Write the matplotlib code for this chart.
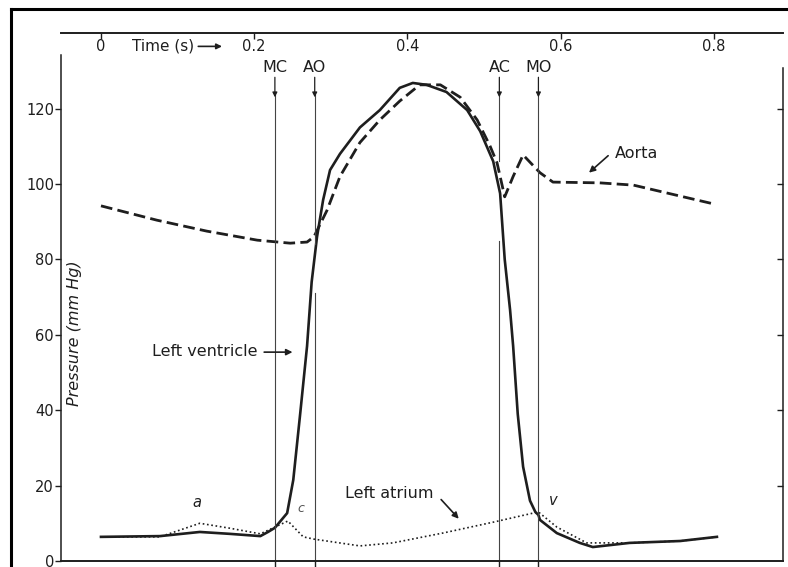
import matplotlib.pyplot as plt
from matplotlib.lines import Line2D

plt.rcParams['font.family'] = ['DejaVu Sans']

# values: time in s, pressure in mm Hg
lv_t = [0.0, 0.077, 0.129, 0.168, 0.208, 0.218, 0.227, 0.243, 0.251, 0.26, 0.269, 0.275,
        0.282, 0.29, 0.299, 0.312, 0.338, 0.364, 0.39, 0.407, 0.425, 0.451, 0.478, 0.495,
        0.512, 0.521, 0.527, 0.534, 0.538, 0.544, 0.551, 0.56, 0.567, 0.571, 0.573, 0.595,
        0.625, 0.642, 0.69, 0.756, 0.804]
lv_p = [6.4, 6.6, 7.7, 7.2, 6.6, 7.7, 8.8, 12.7, 21.5, 39, 57, 74,
        86, 95.8, 103.7, 108, 115, 119.6, 125.5, 126.8, 126.3, 124.4, 119.6, 114,
        106, 97.5, 80, 66.6, 57, 39, 25, 16, 13, 12.2, 10.9, 7.4,
        4.8, 3.7, 4.8, 5.3, 6.4]

ao_t = [0.0, 0.073, 0.138, 0.204, 0.247, 0.269, 0.278, 0.295, 0.312, 0.338, 0.364, 0.39,
        0.416, 0.443, 0.469, 0.491, 0.508, 0.517, 0.527, 0.538, 0.551, 0.573, 0.59, 0.651,
        0.695, 0.739, 0.8]
ao_p = [94.2, 90.4, 87.5, 85.1, 84.3, 84.6, 86, 93, 102, 111, 117, 122,
        126.3, 126.3, 123, 117, 110, 105.6, 96.6, 102, 107.7, 103, 100.5, 100.3,
        99.7, 97.6, 94.7]

la_t = [0.0, 0.077, 0.129, 0.168, 0.208, 0.227, 0.244, 0.264, 0.278, 0.338, 0.381, 0.446,
        0.512, 0.564, 0.571, 0.595, 0.634, 0.69, 0.756, 0.804]
la_p = [6.4, 6.4, 10.0, 8.7, 7.2, 9.0, 10.6, 6.4, 5.8, 4.0, 4.8, 7.4,
        10.3, 12.7, 13.0, 9.0, 4.8, 4.8, 5.3, 6.4]

events = ['MC', 'AO', 'AC', 'MO']
event_t = [0.227, 0.279, 0.52, 0.571]
# parts of each marker line left out where the curves cross (pressure ranges)
event_gaps = [None, (71, 84), (85, 106), None]

time_ticks = [0, 0.2, 0.4, 0.6, 0.8]
time_labels = ['0', '0.2', '0.4', '0.6', '0.8']
p_ticks = [0, 20, 40, 60, 80, 100, 120]

ink = '#1e1e1e'
fs = 11.5

fig = plt.figure(figsize=(7.88, 5.67), dpi=100)
ax = fig.add_axes([0.0774, 0.0106, 0.9163, 0.9312])
ax.set_xlim(-0.0522, 0.8903)
ax.set_ylim(0, 140.05)

ax.plot(lv_t, lv_p, color=ink, lw=1.9, solid_joinstyle='round')
ax.plot(ao_t, ao_p, color=ink, lw=2.0, dashes=(4.2, 1.9))
ax.plot(la_t, la_p, color=ink, lw=1.2, linestyle=(0, (1, 1.6)))

# event marker lines with labels and arrows
for name, t, gap in zip(events, event_t, event_gaps):
    if gap is None:
        ax.plot([t, t], [0, 123.5], color='#444', lw=0.8)
    else:
        ax.plot([t, t], [0, gap[0]], color='#444', lw=0.8)
        ax.plot([t, t], [gap[1], 123.5], color='#444', lw=0.8)
    ax.text(t, 130.8, name, ha='center', va='center', fontsize=fs, color=ink)
    ax.annotate('', xy=(t, 123.0), xytext=(t, 128.3),
                arrowprops=dict(arrowstyle='-|>', color=ink, lw=0.9,
                                mutation_scale=7, shrinkA=0, shrinkB=0))

# curve labels
ax.text(0.671, 108.2, 'Aorta', ha='left', va='center', fontsize=fs, color=ink)
ax.annotate('', xy=(0.637, 103.0), xytext=(0.662, 107.5),
            arrowprops=dict(arrowstyle='-|>', color=ink, lw=1.2,
                            mutation_scale=9, shrinkA=0, shrinkB=0))
ax.text(0.0666, 55.7, 'Left ventricle', ha='left', va='center', fontsize=fs, color=ink)
ax.annotate('', xy=(0.25, 55.4), xytext=(0.213, 55.4),
            arrowprops=dict(arrowstyle='-|>', color=ink, lw=1.2,
                            mutation_scale=9, shrinkA=0, shrinkB=0))
ax.text(0.3185, 17.9, 'Left atrium', ha='left', va='center', fontsize=fs, color=ink)
ax.annotate('', xy=(0.467, 11.2), xytext=(0.444, 16.3),
            arrowprops=dict(arrowstyle='-|>', color=ink, lw=1.2,
                            mutation_scale=9, shrinkA=0, shrinkB=0))
ax.text(0.125, 15.5, 'a', ha='center', va='center', fontsize=10.5, style='italic', color=ink)
ax.text(0.261, 14.0, 'c', ha='center', va='center', fontsize=9, style='italic', color='#555')
ax.text(0.591, 16.0, 'v', ha='center', va='center', fontsize=10.5, style='italic', color=ink)

ax.text(0.040, 136.5, 'Time (s)', ha='left', va='center', fontsize=11, color=ink)
ax.annotate('', xy=(0.158, 136.5), xytext=(0.127, 136.5),
            arrowprops=dict(arrowstyle='-|>', color=ink, lw=1.2,
                            mutation_scale=8, shrinkA=0, shrinkB=0))

ax.text(-0.034, 60.5, 'Pressure (mm Hg)', rotation=90, ha='center', va='center',
        fontsize=fs, style='italic', color=ink)

# axes styling
for side in ['left', 'right', 'top', 'bottom']:
    ax.spines[side].set_color(ink)
ax.spines['left'].set_linewidth(1.1)
ax.spines['right'].set_linewidth(1.1)
ax.spines['top'].set_linewidth(1.4)
ax.spines['bottom'].set_linewidth(1.4)
ax.spines['left'].set_bounds(0, 134.2)
ax.spines['right'].set_bounds(0, 130.8)

ax.set_yticks(p_ticks)
ax.set_yticklabels([str(p) for p in p_ticks])
ax.tick_params(axis='y', which='both', left=True, right=True, direction='out',
               length=4, width=1, colors=ink, labelsize=10.5, pad=1)
for tk in ax.yaxis.get_major_ticks():
    tk.tick2line.set_marker(0)  # right side ticks point inward
    tk.tick2line.set_markersize(4)
ax.yaxis.get_major_ticks()[0].tick2line.set_visible(False)

ax.set_xticks(time_ticks)
ax.set_xticklabels(time_labels)
ax.tick_params(axis='x', top=True, bottom=False, labeltop=True, labelbottom=False,
               direction='in', length=4, width=1, colors=ink, labelsize=10.5, pad=-15)

# bottom ticks where marker lines cross the base line
for t in event_t:
    ax.plot([t, t], [0, -1.5], color=ink, lw=1, clip_on=False)

# outer frame of the figure panel
fig.add_artist(Line2D([0.014, 0.014], [0.0, 0.984], color='black', lw=2.2))
fig.add_artist(Line2D([0.014, 1.0], [0.984, 0.984], color='black', lw=2.2))

fig.savefig('out.png', dpi=100)
